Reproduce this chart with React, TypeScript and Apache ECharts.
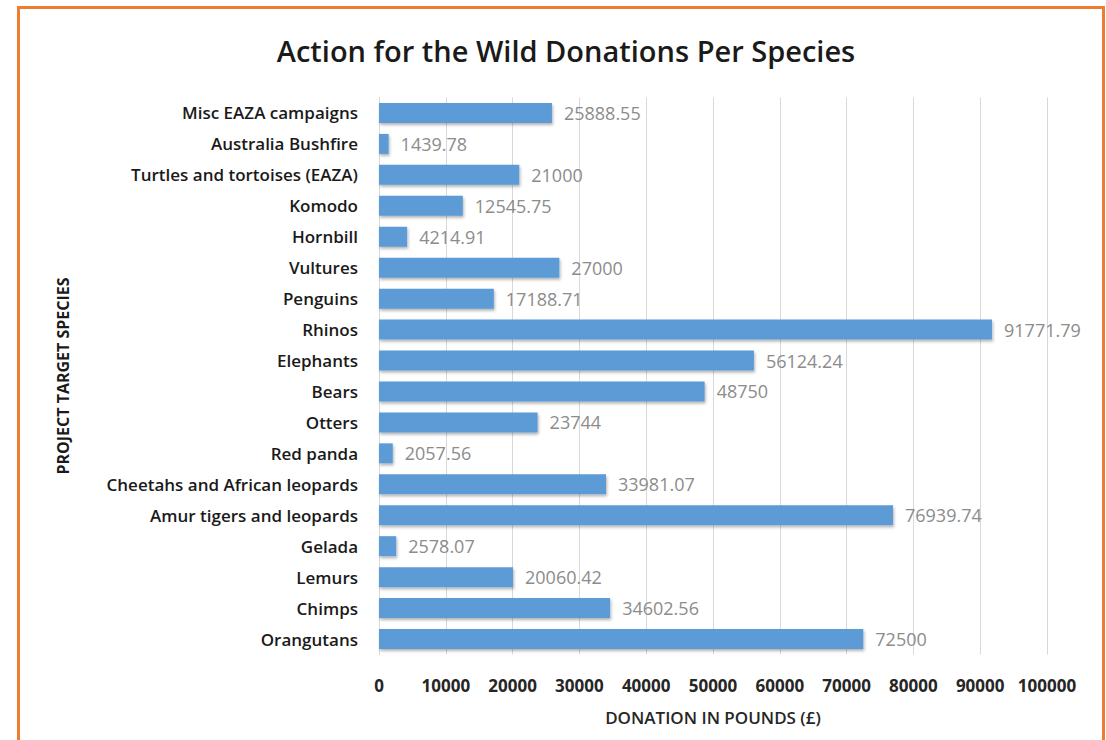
import React, { useEffect, useRef } from "react";
import * as echarts from "echarts";

const categories = [
  "Orangutans",
  "Chimps",
  "Lemurs",
  "Gelada",
  "Amur tigers and leopards",
  "Cheetahs and African leopards",
  "Red panda",
  "Otters",
  "Bears",
  "Elephants",
  "Rhinos",
  "Penguins",
  "Vultures",
  "Hornbill",
  "Komodo",
  "Turtles and tortoises (EAZA)",
  "Australia Bushfire",
  "Misc EAZA campaigns",
];

const donations = [
  72500, 34602.56, 20060.42, 2578.07, 76939.74, 33981.07, 2057.56, 23744, 48750,
  56124.24, 91771.79, 17188.71, 27000, 4214.91, 12545.75, 21000, 1439.78, 25888.55,
];

const xTicks = { min: 0, max: 100000, interval: 10000 };

const FONT = "'Open Sans', 'Noto Sans', sans-serif";

export default function App() {
  const ref = useRef<HTMLDivElement>(null);
  useEffect(() => {
    if (!ref.current) return;
    const chart = echarts.init(ref.current, null, { renderer: "svg" });
    chart.setOption({
      animation: false,
      backgroundColor: "#ffffff",
      title: {
        text: "Action for the Wild Donations Per Species",
        left: 561,
        top: 31,
        textAlign: "center",
        textStyle: {
          fontFamily: FONT,
          fontSize: 29,
          fontWeight: 600,
          color: "#1a1a1a",
        },
      },
      graphic: [
        {
          type: "rect",
          shape: { x: 18.5, y: 7.5, width: 1085, height: 760 },
          style: { fill: "none", stroke: "#ed7d31", lineWidth: 3 },
          silent: true,
        },
      ],
      grid: { left: 379, right: 59, top: 97.5, bottom: 85.5, containLabel: false },
      xAxis: {
        type: "value",
        min: xTicks.min,
        max: xTicks.max,
        interval: xTicks.interval,
        name: "DONATION IN POUNDS (£)",
        nameLocation: "middle",
        nameGap: 54,
        nameTextStyle: {
          fontFamily: FONT,
          fontSize: 17,
          fontWeight: 600,
          color: "#262626",
        },
        axisLine: { show: false },
        axisTick: { show: false },
        axisLabel: {
          margin: 22,
          fontFamily: FONT,
          fontSize: 17,
          fontWeight: "bold",
          color: "#262626",
          formatter: (v: number) => String(v),
        },
        splitLine: { show: true, lineStyle: { color: "#d9d9d9", width: 1 } },
      },
      yAxis: {
        type: "category",
        data: categories,
        name: "PROJECT TARGET SPECIES",
        nameLocation: "middle",
        nameGap: 308,
        nameTextStyle: {
          fontFamily: FONT,
          fontSize: 16,
          fontWeight: "bold",
          color: "#1a1a1a",
        },
        axisLine: { show: true, lineStyle: { color: "#d9d9d9" } },
        axisTick: { show: false },
        axisLabel: {
          margin: 21,
          fontFamily: FONT,
          fontSize: 17,
          fontWeight: 600,
          color: "#1a1a1a",
        },
      },
      series: [
        {
          type: "bar",
          data: donations,
          barWidth: 20,
          itemStyle: {
            color: "#5b9bd5",
            shadowColor: "rgba(0,0,0,0.3)",
            shadowBlur: 3,
            shadowOffsetY: 2,
            shadowOffsetX: 1,
          },
          label: {
            show: true,
            position: "right",
            distance: 12,
            fontFamily: FONT,
            fontSize: 18,
            color: "#8c8c8c",
          },
        },
      ],
    });
    return () => chart.dispose();
  }, []);
  return (
    <div
      ref={ref}
      style={{ position: "fixed", left: 0, top: 0, width: 1106, height: 740 }}
    />
  );
}
